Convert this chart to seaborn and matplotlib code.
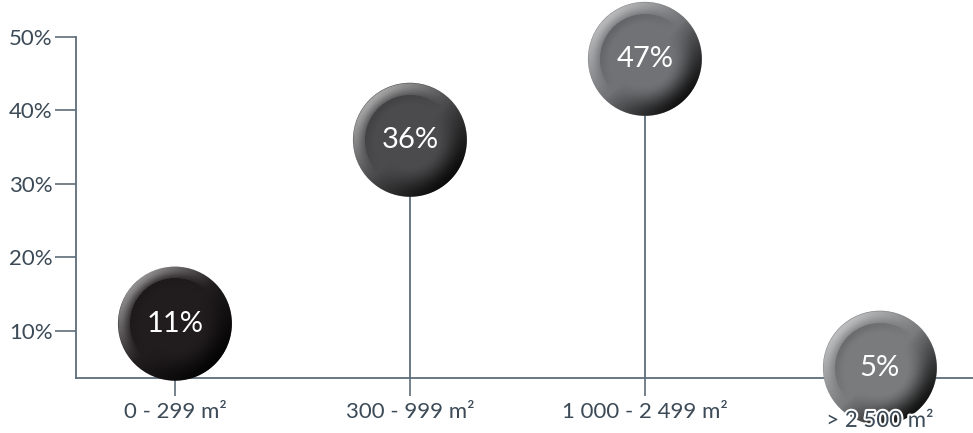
import numpy as np
import pandas as pd
import matplotlib
matplotlib.use("Agg")
import matplotlib.pyplot as plt
import matplotlib.patheffects as pe
from matplotlib.offsetbox import OffsetImage, AnnotationBbox
import seaborn as sns

# Share of sites by floor-area band
categories = ["0 - 299 m²", "300 - 999 m²", "1 000 - 2 499 m²", "> 2 500 m²"]
shares = [11, 36, 47, 5]
bubble_colors = ["#211d1e", "#4b4b4d", "#717275", "#7a7b7d"]
y_ticks = [10, 20, 30, 40, 50]
y_tick_labels = ["10%", "20%", "30%", "40%", "50%"]

sns.set_style("white")
plt.rcParams["font.family"] = ["Lato", "DejaVu Sans"]

AXIS_COLOR = "#5d6d79"
LABEL_COLOR = "#3b4a56"
BUBBLE_PX = 114  # bubble diameter in pixels at 100 dpi
TICK_FS = 16

df = pd.DataFrame({"band": categories, "share": shares})

fig = plt.figure(figsize=(9.73, 4.33), dpi=100)
ax = fig.add_axes([0.0781, 0.127, 0.9219, 0.788])

ymin, ymax = 3.6, 50
ax.set_ylim(ymin, ymax)

# stems from the axis up to each bubble
ax.vlines(range(len(shares)), ymin, shares, color=AXIS_COLOR, lw=1.3, zorder=2)

# base discs
diam_pt = BUBBLE_PX * 72 / 100
sns.scatterplot(data=df, x="band", y="share", hue="band", palette=bubble_colors,
                s=diam_pt ** 2, edgecolor="none", legend=False, ax=ax,
                zorder=3, clip_on=False)
ax.set_xlim(-0.421, 3.396)


def bevel_overlay(n):
    """Soft bevel: light rim toward upper left, dark rim toward lower right."""
    c = (np.arange(n) + 0.5) / n * 2 - 1
    u, v = np.meshgrid(c, -c)
    r = np.sqrt(u ** 2 + v ** 2)
    rr = np.maximum(r, 1e-6)
    d = (-u + v) / (rr * np.sqrt(2))

    def smooth(a, b, x):
        t = np.clip((x - a) / (b - a), 0, 1)
        return t * t * (3 - 2 * t)

    light = smooth(0.7, 0.98, r) * np.clip(d, 0, 1) ** 1.1
    dark = smooth(0.45, 1.0, r) * np.clip(-d, 0, 1) ** 0.9
    inner = smooth(0.6, 0.78, r) * (1 - smooth(0.78, 0.93, r)) * np.clip(d, 0, 1) * 0.12

    img = np.zeros((n, n, 4))
    a_light = 0.5 * light
    a_dark = 0.85 * dark + inner
    img[..., :3] = np.where((a_light > a_dark)[..., None], 1.0, 0.0)
    alpha = np.maximum(a_light, a_dark)
    edge = np.clip((1 - r) * n / 2, 0, 1)
    img[..., 3] = alpha * edge
    return img


overlay = bevel_overlay(2 * BUBBLE_PX)
for i, val in enumerate(shares):
    ab = AnnotationBbox(OffsetImage(overlay, zoom=0.5, dpi_cor=False), (i, val),
                        frameon=False, pad=0, zorder=3.5, annotation_clip=False)
    ax.add_artist(ab)
    ax.text(i, val, f"{val}%", ha="center", va="center", color="white",
            fontsize=21, zorder=5, clip_on=False)

# axes styling
for side in ("top", "right"):
    ax.spines[side].set_visible(False)
for side in ("left", "bottom"):
    ax.spines[side].set_color(AXIS_COLOR)
    ax.spines[side].set_linewidth(1.3)
    ax.spines[side].set_zorder(2.5)

ax.set_yticks(y_ticks)
ax.set_yticklabels(y_tick_labels)
ax.set_xticks(range(len(categories)))
ax.set_xticklabels(categories[:-1] + [""])
ax.set_xlabel("")
ax.set_ylabel("")
ax.tick_params(axis="y", direction="out", length=15, width=1.2, color=AXIS_COLOR,
               labelcolor=LABEL_COLOR, labelsize=TICK_FS, pad=2, left=True)
ax.tick_params(axis="x", direction="out", length=13, width=1.2, color=AXIS_COLOR,
               labelcolor=LABEL_COLOR, labelsize=TICK_FS, pad=4, bottom=True)
ax.xaxis.get_major_ticks()[-1].tick1line.set_visible(False)

# the last band's label sits at the foot of the figure, beneath its bubble
ax.annotate(categories[-1], xy=(len(categories) - 1, 0),
            xycoords=("data", "figure fraction"),
            xytext=(0, 1.5), textcoords="offset points", ha="center", va="bottom",
            fontsize=TICK_FS, color=LABEL_COLOR, zorder=6, annotation_clip=False,
            path_effects=[pe.withStroke(linewidth=3, foreground="white")])

fig.savefig("out.png", dpi=100)
